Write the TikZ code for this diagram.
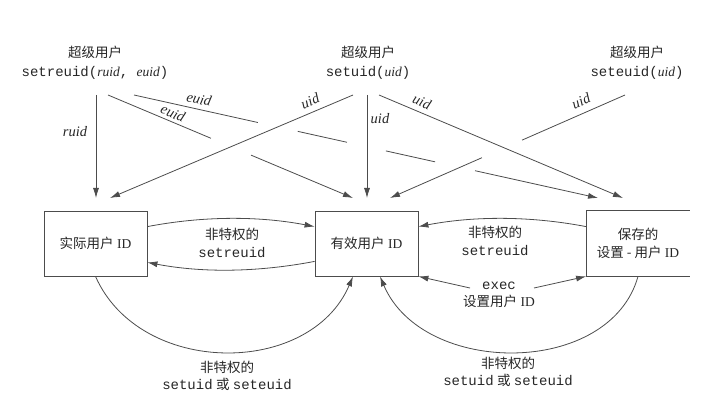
\documentclass[tikz,border=0pt]{standalone}
\usepackage{fontspec}
\setmainfont{Liberation Serif}
\setmonofont{Liberation Mono}
\newfontfamily\cjk{Noto Sans CJK SC}
\usetikzlibrary{arrows.meta,calc}
\definecolor{linecol}{gray}{0.3}
\definecolor{txtcol}{gray}{0.15}
\newcommand\zh[1]{{\cjk #1}}
\newcommand\mono[1]{{\fontsize{14}{17.5}\selectfont\ttfamily #1}}
\begin{document}
\begin{tikzpicture}[x=1pt,y=-1pt,
  idbox/.style={draw=linecol, line width=0.8pt, minimum width=103pt, minimum height=65pt, inner sep=0pt, align=center, text=txtcol, font=\fontsize{13.5}{18}\selectfont},
  ln/.style={draw=linecol, line width=0.8pt},
  arr/.style={ln, -{Latex[length=10pt,width=6pt]}},
  lbl/.style={align=center, inner sep=0pt, text=txtcol, font=\fontsize{13.5}{17.5}\selectfont},
  toplbl/.style={lbl, font=\fontsize{13.5}{19}\selectfont},
  var/.style={inner sep=0pt, text=txtcol, font=\fontsize{14.5}{16}\selectfont\itshape},
]
\useasboundingbox (0,0) rectangle (709,406);

% boxes
\node[idbox] (real) at (95.5,243.5) {\zh{实际用户} ID};
\node[idbox] (eff) at (366.5,243.5) {\zh{有效用户} ID};
\node[idbox, draw=none] (saved) at (638,243.5) {\zh{保存的}\\\zh{设置 - 用户} ID};
\draw[ln] (saved.north east) -- (saved.north west) -- (saved.south west) -- (saved.south east);

% superuser labels
\node[toplbl] (su1) at (95,62.5) {\zh{超级用户}\\\mono{setreuid(}\textit{ruid}\mono{, }\textit{euid}\mono{)}};
\node[toplbl] (su2) at (368,62.5) {\zh{超级用户}\\\mono{setuid(}\textit{uid}\mono{)}};
\node[toplbl] (su3) at (637,62.5) {\zh{超级用户}\\\mono{seteuid(}\textit{uid}\mono{)}};

% start / end points
\coordinate (a1) at (96,95);
\coordinate (a2) at (108,95);
\coordinate (a3) at (134,95);
\coordinate (b1) at (353,95);
\coordinate (b2) at (367,95);
\coordinate (b3) at (379,95);
\coordinate (c1) at (625,95);
\coordinate (r1) at (96,198);
\coordinate (r2) at (110,198);
\coordinate (e1) at (353,198);
\coordinate (e2) at (367,198);
\coordinate (e3) at (390,198);
\coordinate (s1) at (598,198);
\coordinate (s2) at (623,198);

% setreuid
\draw[arr] (a1) -- (r1);
\draw[ln] (a2) -- ($(a2)!0.42!(e1)$);
\draw[arr] ($(a2)!0.584!(e1)$) -- (e1);
\draw[ln] (a3) -- ($(a3)!0.267!(s1)$) ($(a3)!0.353!(s1)$) -- ($(a3)!0.459!(s1)$) ($(a3)!0.543!(s1)$) -- ($(a3)!0.649!(s1)$);
\draw[arr] ($(a3)!0.735!(s1)$) -- (s1);
% setuid
\draw[arr] (b1) -- (r2);
\draw[arr] (b2) -- (e2);
\draw[arr] (b3) -- (s2);
% seteuid
\draw[ln] (c1) -- ($(c1)!0.438!(e3)$);
\draw[arr] ($(c1)!0.609!(e3)$) -- (e3);

% variable labels
\node[var] (v1) at (75,132) {ruid};
\node[var, rotate=-22.6] (v2) at (173,113) {euid};
\node[var, rotate=-12.4] (v3) at (199,99) {euid};
\node[var, rotate=22.8] (v4) at (310,101) {uid};
\node[var] (v5) at (380,119) {uid};
\node[var, rotate=-22.7] (v6) at (422,102) {uid};
\node[var, rotate=23.5] (v7) at (581,101) {uid};

% horizontal arcs
\draw[arr] ($(real.north east)+(0,16)$) .. controls +(56,-10.7) and +(-56,-10.7) .. ($(eff.north west)+(0,16)$);
\draw[arr] ($(eff.south west)+(0,-15)$) .. controls +(-56,10.7) and +(56,10.7) .. ($(real.south east)+(0,-14)$);
\draw[arr] ($(saved.north west)+(0,16)$) .. controls +(-56,-10.7) and +(56,-10.7) .. ($(eff.north east)+(0,16)$);
\node[lbl] (l1) at (232,243) {\zh{非特权的}\\\mono{setreuid}};
\node[lbl] (l2) at (495,241) {\zh{非特权的}\\\mono{setreuid}};

% exec
\node[lbl] (ex) at (499,295) {\mono{exec}\\\zh{设置用户} ID};
\coordinate (x1) at (470,288);
\coordinate (x2) at (534,288);
\draw[arr] (x1) -- (eff.south east);
\draw[arr] (x2) -- (saved.south west);

% bottom arcs
\draw[arr] (real.south) .. controls (140,377) and (310,377) .. ($(eff.south)+(-13.5,0)$);
\draw[arr] (saved.south) .. controls (610,377) and (423,377) .. ($(eff.south)+(13.5,0)$);
\node[lbl] (l3) at (227,376) {\zh{非特权的}\\\mono{setuid} \zh{或} \mono{seteuid}};
\node[lbl] (l4) at (508,372) {\zh{非特权的}\\\mono{setuid} \zh{或} \mono{seteuid}};
\end{tikzpicture}
\end{document}
